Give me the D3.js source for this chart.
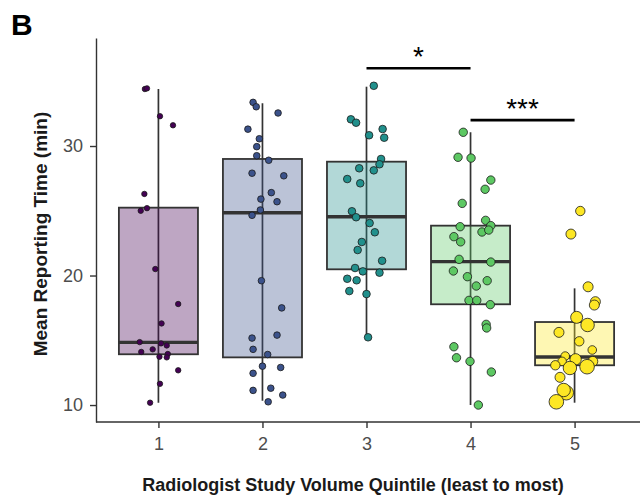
<!DOCTYPE html>
<html lang="en">
<head>
    <meta charset="utf-8">
    <title>Mean Reporting Time by Study Volume Quintile</title>
    <script src="https://d3js.org/d3.v7.min.js"></script>
    <style>
        body { margin: 0; background: #fff; }
        text { font-family: "Liberation Sans", Arial, sans-serif; }
    </style>
</head>
<body>
    <div id="chart-container"></div>

    <script>
        // quintiles and viridis colours
        const quintiles = [1, 2, 3, 4, 5];
        const colours = ['#440154', '#3b528b', '#21908c', '#5dc863', '#fde725'];

        // box stats (minutes)
        const whiskerLow  = [10.18, 10.33, 15.27, 10.00, 10.18];
        const q1          = [13.92, 13.68, 20.48, 17.78, 13.07];
        const medians     = [14.84, 24.85, 24.54, 21.07, 13.71];
        const q3          = [25.24, 29.00, 28.79, 23.85, 16.41];
        const whiskerHigh = [34.40, 33.30, 34.58, 31.06, 19.01];

        // jittered points: value and horizontal jitter (quintile units)
        const g1Values = [34.4, 34.45, 32.3, 31.6, 26.3, 25.0, 25.2, 20.5, 17.8, 16.3, 14.86, 14.76, 14.6, 14.1, 14.3, 13.94, 13.68, 13.73, 12.68, 11.64, 10.18];
        const g1Jitter = [-0.13, -0.11, 0.015, 0.14, -0.135, -0.17, -0.11, -0.03, 0.19, 0.03, -0.18, 0.025, 0.08, -0.165, -0.055, 0.09, 0.08, 0.01, 0.19, 0.015, -0.08];

        const g2Values = [33.37, 33.03, 32.55, 31.3, 30.56, 29.95, 29.25, 28.9, 27.9, 27.7, 26.4, 25.9, 25.7, 25.06, 24.65, 19.6, 17.5, 15.17, 15.4, 14.3, 13.9, 13.0, 12.9, 12.45, 11.13, 11.3, 10.77, 10.25];
        const g2Jitter = [-0.09, -0.06, 0.15, -0.14, -0.03, -0.055, -0.055, 0.06, -0.10, 0.205, 0.085, -0.015, 0.14, -0.02, -0.10, -0.01, 0.185, -0.10, 0.14, -0.09, 0.05, 0.0, 0.175, -0.09, -0.09, 0.08, 0.195, 0.055];

        const g3Values = [34.65, 32.06, 31.8, 30.83, 31.31, 30.64, 29.0, 28.59, 28.28, 28.12, 27.45, 27.12, 24.96, 24.5, 24.05, 23.34, 22.59, 21.97, 21.14, 20.58, 20.32, 20.22, 19.75, 19.63, 18.8, 18.57, 15.23];
        const g3Jitter = [0.07, -0.15, -0.10, 0.025, 0.155, 0.17, 0.14, 0.125, -0.07, 0.07, -0.185, -0.06, -0.14, -0.10, 0.03, 0.08, -0.045, -0.085, 0.15, -0.11, -0.035, 0.125, -0.185, -0.095, -0.165, 0.0, 0.015];

        const g4Values = [31.06, 29.13, 29.07, 27.37, 26.66, 25.57, 23.77, 24.26, 23.85, 23.36, 23.51, 23.0, 22.6, 21.25, 21.04, 20.35, 19.91, 19.6, 19.19, 18.08, 18.08, 17.75, 16.23, 15.95, 14.5, 13.65, 13.37, 12.55, 10.0];
        const g4Jitter = [-0.07, -0.12, 0.005, 0.195, 0.14, -0.08, -0.10, 0.145, 0.195, 0.11, 0.175, -0.16, -0.095, -0.11, 0.195, -0.165, -0.03, 0.16, 0.055, -0.015, 0.06, 0.19, 0.15, 0.155, -0.16, -0.135, -0.005, 0.2, 0.075];

        const g5Values = [24.98, 23.2, 19.13, 17.98, 17.72, 16.77, 16.18, 15.61, 14.92, 14.25, 13.78, 13.53, 13.37, 13.37, 13.07, 12.86, 12.96, 12.14, 10.95, 11.16, 10.25];
        const g5Jitter = [0.055, -0.035, 0.13, 0.2, 0.19, 0.02, 0.125, -0.15, 0.045, 0.17, -0.09, 0.01, 0.175, -0.12, -0.185, -0.045, 0.12, -0.14, -0.08, -0.105, -0.175];
        // point size variable (study volume, arbitrary units)
        const g5Volume = [22, 25, 25, 25, 25, 36, 45, 25, 22, 18.5, 18.5, 32, 25, 18.5, 22, 45, 53, 25, 53, 45, 53];
        const groupVolume = [7.3, 10.9, 14.4, 17.6];

        // significance brackets
        const brackets = [
            { from: 3, to: 4, level: 36.0, label: '*' },
            { from: 4, to: 5, level: 32.0, label: '***' }
        ];

        const groupValues = [g1Values, g2Values, g3Values, g4Values, g5Values];
        const groupJitter = [g1Jitter, g2Jitter, g3Jitter, g4Jitter, g5Jitter];

        const points = [];
        groupValues.forEach((vals, g) => {
            vals.forEach((v, i) => {
                points.push({
                    group: g,
                    value: v,
                    x: quintiles[g] + groupJitter[g][i],
                    volume: g === 4 ? g5Volume[i] : groupVolume[g]
                });
            });
        });

        const width = 640;
        const height = 496;

        const svg = d3.select('#chart-container')
            .append('svg')
            .attr('width', width)
            .attr('height', height);

        const xScale = d3.scaleLinear()
            .domain([0.4, 5.6])
            .range([96, 637]);

        const yScale = d3.scaleLinear()
            .domain([8.69, 38.34])
            .range([422, 38]);

        const rScale = d3.scaleSqrt()
            .domain([0, 56])
            .range([0, 7.5]);

        const boxHalf = 0.38;
        const boxData = quintiles.map((q, i) => ({
            q, i,
            lo: whiskerLow[i], q1: q1[i], med: medians[i], q3: q3[i], hi: whiskerHigh[i]
        }));

        // whiskers
        svg.selectAll('line.whisker')
            .data(boxData)
            .enter()
            .append('line')
            .attr('class', 'whisker')
            .attr('x1', d => xScale(d.q))
            .attr('x2', d => xScale(d.q))
            .attr('y1', d => yScale(d.lo))
            .attr('y2', d => yScale(d.hi))
            .style('stroke', '#333')
            .style('stroke-width', 1.7);

        // boxes
        svg.selectAll('rect.box')
            .data(boxData)
            .enter()
            .append('rect')
            .attr('class', 'box')
            .attr('x', d => xScale(d.q - boxHalf))
            .attr('width', d => xScale(d.q + boxHalf) - xScale(d.q - boxHalf))
            .attr('y', d => yScale(d.q3))
            .attr('height', d => yScale(d.q1) - yScale(d.q3))
            .style('fill', d => colours[d.i])
            .style('fill-opacity', 0.35)
            .style('stroke', '#333')
            .style('stroke-width', 1.8);

        // medians
        svg.selectAll('line.median')
            .data(boxData)
            .enter()
            .append('line')
            .attr('class', 'median')
            .attr('x1', d => xScale(d.q - boxHalf))
            .attr('x2', d => xScale(d.q + boxHalf))
            .attr('y1', d => yScale(d.med))
            .attr('y2', d => yScale(d.med))
            .style('stroke', '#333')
            .style('stroke-width', 3.4);

        // jittered points
        svg.selectAll('circle.pt')
            .data(points)
            .enter()
            .append('circle')
            .attr('class', 'pt')
            .attr('cx', d => xScale(d.x))
            .attr('cy', d => yScale(d.value))
            .attr('r', d => rScale(d.volume))
            .style('fill', d => colours[d.group])
            .style('stroke', '#1a1a1a')
            .style('stroke-width', 0.8);

        // significance brackets
        svg.selectAll('line.bracket')
            .data(brackets)
            .enter()
            .append('line')
            .attr('class', 'bracket')
            .attr('x1', d => xScale(d.from))
            .attr('x2', d => xScale(d.to))
            .attr('y1', d => yScale(d.level))
            .attr('y2', d => yScale(d.level))
            .style('stroke', '#000')
            .style('stroke-width', 2.6);

        svg.selectAll('text.sig')
            .data(brackets)
            .enter()
            .append('text')
            .attr('class', 'sig')
            .attr('x', d => xScale((d.from + d.to) / 2))
            .attr('y', d => yScale(d.level) - 2)
            .attr('text-anchor', 'middle')
            .style('font-size', '28px')
            .style('fill', '#000')
            .text(d => d.label);

        // axes
        const xAxis = d3.axisBottom(xScale)
            .tickValues(quintiles)
            .tickSize(6)
            .tickSizeOuter(0)
            .tickFormat(d3.format('d'));

        const yAxis = d3.axisLeft(yScale)
            .tickValues([10, 20, 30])
            .tickSize(6)
            .tickSizeOuter(0);

        const xg = svg.append('g')
            .attr('transform', 'translate(0,422)')
            .call(xAxis);
        xg.select('.domain').attr('d', 'M96,0H640').style('stroke', '#333').style('stroke-width', 1.4);
        xg.selectAll('.tick line').style('stroke', '#333').style('stroke-width', 1.4);
        xg.selectAll('.tick text')
            .attr('y', 28)
            .attr('dy', 0)
            .style('font-size', '18px')
            .style('fill', '#4d4d4d');

        const yg = svg.append('g')
            .attr('transform', 'translate(96,0)')
            .call(yAxis);
        yg.select('.domain').style('stroke', '#333').style('stroke-width', 1.4);
        yg.selectAll('.tick line').style('stroke', '#333').style('stroke-width', 1.4);
        yg.selectAll('.tick text')
            .attr('x', -13)
            .style('font-size', '18px')
            .style('fill', '#4d4d4d');

        // labels
        svg.append('text')
            .attr('x', 353)
            .attr('y', 491)
            .attr('text-anchor', 'middle')
            .style('font-size', '18px')
            .style('font-weight', 'bold')
            .style('fill', '#1a1a1a')
            .text('Radiologist Study Volume Quintile (least to most)');

        svg.append('text')
            .attr('transform', 'rotate(-90)')
            .attr('x', -234)
            .attr('y', 47)
            .attr('text-anchor', 'middle')
            .style('font-size', '19px')
            .style('font-weight', 'bold')
            .style('fill', '#1a1a1a')
            .text('Mean Reporting Time (min)');

        svg.append('text')
            .attr('x', 11)
            .attr('y', 35)
            .style('font-size', '30px')
            .style('font-weight', 'bold')
            .style('fill', '#000')
            .text('B');
    </script>
</body>
</html>
